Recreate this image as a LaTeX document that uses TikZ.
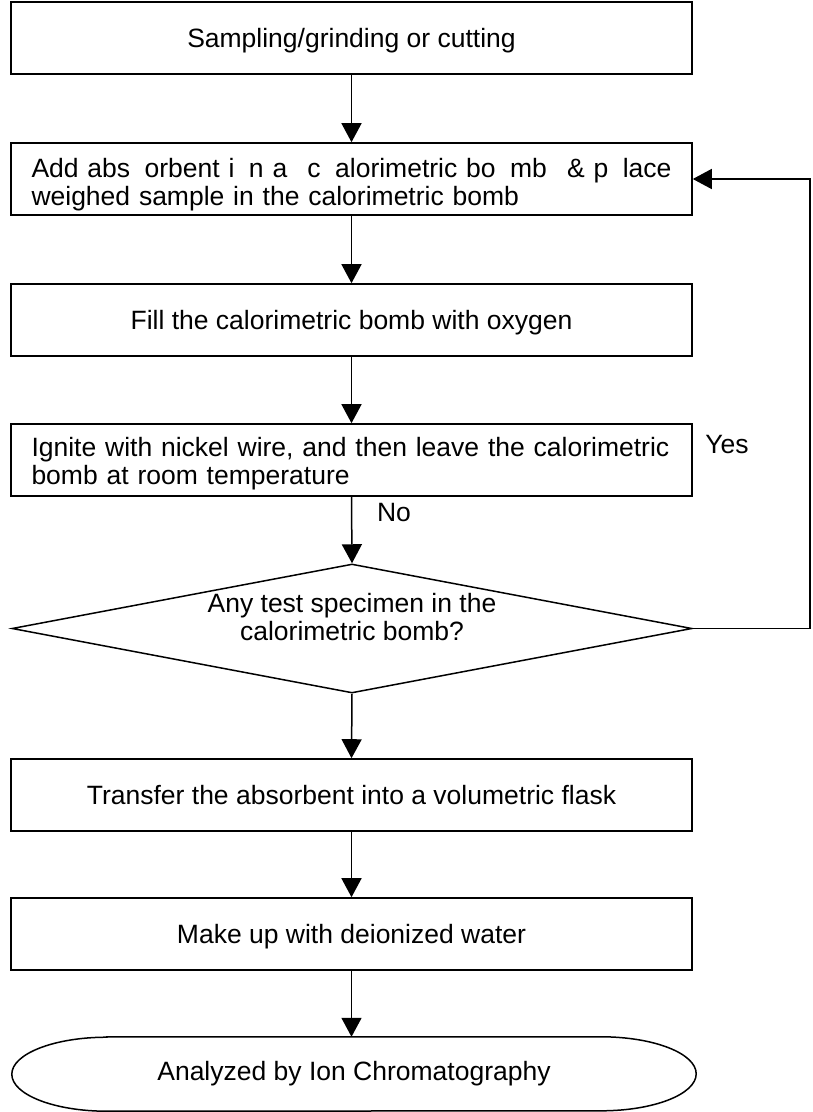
\documentclass[tikz,border=0pt]{standalone}
\usepackage{fontspec}
\setmainfont{Liberation Sans}
\usetikzlibrary{arrows.meta,shapes.geometric}
\begin{document}
\begin{tikzpicture}[x=1pt,y=-1pt,
  every node/.style={font=\fontsize{26.5}{28}\selectfont},
  box/.style={draw, line width=1.6pt, minimum width=681pt, minimum height=72pt, inner sep=0pt, align=center, text depth=0pt},
  lbox/.style={draw, line width=1.6pt, minimum width=681pt, minimum height=72pt, inner xsep=20.5pt, inner ysep=0pt, text width=640pt, align=left},
  dec/.style={draw, diamond, line width=1.5pt, minimum width=680pt, minimum height=129pt, inner sep=0pt, shape aspect=5.27},
  conn/.style={line width=1.5pt, -{Triangle[length=19pt,width=20pt]}},
  wire/.style={line width=1.5pt}]
\useasboundingbox (0,0) rectangle (813,1112);

\node[box] (b1) at (351.5,38) {Sampling/grinding or cutting};
\node[lbox] (b2) at (351.5,179) {\rule{0pt}{30pt}\hbox to 640pt{Add abs \hfill orbent i \hfill n a \hfill\hfill c \hfill alorimetric bo \hfill mb \hfill\hfill \& p \hfill lace}\\ weighed sample in the calorimetric bomb};
\node[box] (b3) at (351.5,320) {Fill the calorimetric bomb with oxygen};
\node[lbox] (b4) at (351.5,460) {\rule{0pt}{27pt}\mbox{Ignite with nickel wire, and then leave the calorimetric}\\\mbox{bomb at room temperature}};
\node[dec] (d) at (352,628.5) {};
\node[align=center] (dt) at (352,617) {Any test specimen in the\\calorimetric bomb?};
\node[box] (b6) at (351.5,795) {Transfer the absorbent into a volumetric flask};
\node[box] (b7) at (351.5,934) {Make up with deionized water};
\node[minimum width=684pt, minimum height=74pt, inner sep=0pt] (e) at (354,1074) {Analyzed by Ion Chromatography};
\draw[line width=1.5pt] ([xshift=95pt]e.north west) -- ([xshift=-95pt]e.north east)
  arc[start angle=90, end angle=-90, x radius=95pt, y radius=37pt]
  -- ([xshift=95pt]e.south west)
  arc[start angle=270, end angle=90, x radius=95pt, y radius=37pt] -- cycle;

\node (yes) at (727,445) {Yes};
\node (no) at (394,513) {No};

\coordinate (fb) at (810,628.5);

\draw[conn] (b1.south) -- (b2.north);
\draw[conn] (b2.south) -- (b3.north);
\draw[conn] (b3.south) -- (b4.north);
\draw[conn] (b4.south) -- (d.north);
\draw[conn] (d.south) -- (b6.north);
\draw[conn] (b6.south) -- (b7.north);
\draw[conn] (b7.south) -- (b7.south |- e.north);
\draw[conn] (d.east) -- (fb) |- (b2.east);
\end{tikzpicture}
\end{document}
